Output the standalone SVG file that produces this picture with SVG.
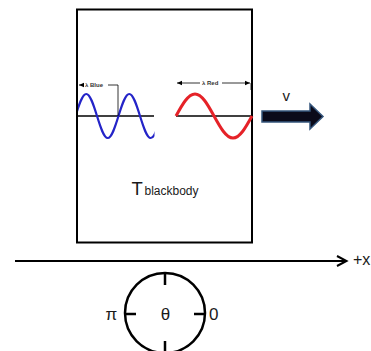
<svg xmlns="http://www.w3.org/2000/svg" width="371" height="351" viewBox="0 0 371 351">
<style>
  .t{font-family:"Liberation Sans",Arial,sans-serif;fill:#1a1a1a}
  .ln{stroke:#000;fill:none}
  .lab{font-family:"Liberation Sans",Arial,sans-serif;font-size:6px;font-weight:bold;fill:#333}
</style>
<defs>
  <marker id="ah" markerWidth="6" markerHeight="6" refX="5" refY="3" orient="auto-start-reverse" markerUnits="userSpaceOnUse">
    <path d="M0,0.8 L5,3 L0,5.2 z" fill="#000"/>
  </marker>
  <clipPath id="bclip"><rect x="78" y="80" width="76.5" height="70"/></clipPath>
</defs>
<rect width="371" height="351" fill="#fff"/>
<g id="blackbody">
  <rect x="77" y="9.5" width="175" height="233" fill="#fff" stroke="#000" stroke-width="2"/>
  <text class="t" x="131.5" y="195" font-size="18.5">T</text>
  <text class="t" x="144.5" y="195" font-size="12">blackbody</text>
</g>
<g id="blue-wave">
  <line class="ln" x1="77" y1="116" x2="154" y2="116" stroke-width="1.5"/>
  <path clip-path="url(#bclip)" d="M75.5,116 C79.01,104.73 82.36,94 86.25,94 C90.14,94 93.49,104.73 97,116 C100.51,127.27 103.86,138 107.75,138 C111.64,138 114.99,127.27 118.5,116 C122.01,104.73 125.36,94 129.25,94 C133.14,94 136.49,104.73 140,116 C143.51,127.27 146.86,138 150.75,138 C154.64,138 157.99,127.27 161.5,116" fill="none" stroke="#2424c8" stroke-width="2.2"/>
  <line class="ln" x1="84" y1="85" x2="79" y2="85" stroke-width="0.8" marker-end="url(#ah)"/>
  <polyline class="ln" points="108,85 118,85 118,116" stroke-width="0.8"/>
  <text class="lab" x="85" y="87">λ Blue</text>
</g>
<g id="red-wave">
  <line class="ln" x1="176" y1="116" x2="252" y2="116" stroke-width="1.5"/>
  <path d="M176,116 C182.2,104.73 188.12,94 195,94 C201.88,94 207.8,104.73 214,116 C220.2,127.27 226.12,138 233,138 C239.88,138 245.8,127.27 252,116" fill="none" stroke="#e52228" stroke-width="3"/>
  <line class="ln" x1="200" y1="83" x2="177" y2="83" stroke-width="0.8" marker-end="url(#ah)"/>
  <line class="ln" x1="222" y1="83" x2="250" y2="83" stroke-width="0.8" marker-end="url(#ah)"/>
  <line class="ln" x1="251" y1="83" x2="251" y2="90" stroke-width="0.8"/>
  <text class="lab" x="202" y="85">λ Red</text>
</g>
<g id="velocity">
  <polygon points="262,111 310,111 310,104 323,116.5 310,129 310,122 262,122" fill="#0a0a1a" stroke="#34557c" stroke-width="1.5"/>
  <text class="t" x="282.5" y="101" font-size="15">v</text>
</g>
<g id="connectors">
  <line class="ln" x1="15" y1="261" x2="346" y2="261" stroke-width="2"/>
  <polyline class="ln" points="337,256 346.5,261 337,266" stroke-width="2"/>
</g>
<text class="t" x="353" y="265" font-size="16">+x</text>
<g id="angle-dial">
  <circle cx="165" cy="313" r="40" fill="none" stroke="#000" stroke-width="2.5"/>
  <line class="ln" x1="165" y1="273" x2="165" y2="285" stroke-width="2.5"/>
  <line class="ln" x1="165" y1="341" x2="165" y2="353" stroke-width="2.5"/>
  <line class="ln" x1="125" y1="314" x2="136" y2="314" stroke-width="2.5"/>
  <line class="ln" x1="194" y1="314" x2="205" y2="314" stroke-width="2.5"/>
  <text class="t" x="105.5" y="320" font-size="17">π</text>
  <text class="t" x="165.5" y="320" font-size="17" text-anchor="middle">θ</text>
  <text class="t" x="209" y="320" font-size="17">0</text>
</g>
</svg>
